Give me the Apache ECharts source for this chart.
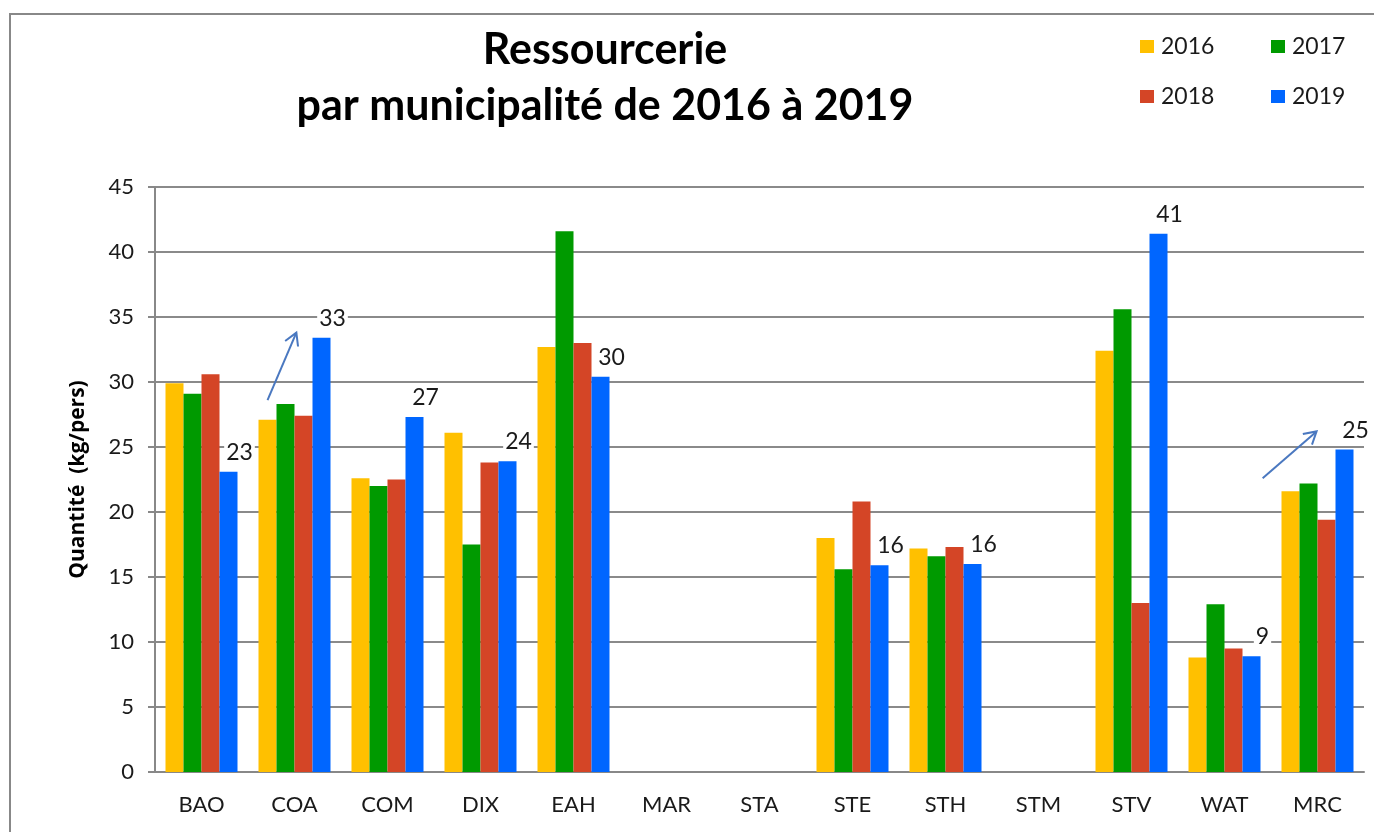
<!DOCTYPE html>
<html>
<head>
<meta charset="utf-8">
<script src="https://cdn.jsdelivr.net/npm/echarts@6/dist/echarts.min.js"></script>
<style>
  html, body { margin: 0; padding: 0; background: #fff; }
  #chart { width: 1374px; height: 832px; }
</style>
</head>
<body>
<div id="chart"></div>
<script>
// données (kg/pers)
const categories = ['BAO', 'COA', 'COM', 'DIX', 'EAH', 'MAR', 'STA', 'STE', 'STH', 'STM', 'STV', 'WAT', 'MRC']
const years = ['2016', '2017', '2018', '2019']
const y2016 = [29.9, 27.1, 22.6, 26.1, 32.7, null, null, 18.0, 17.2, null, 32.4, 8.8, 21.6]
const y2017 = [29.1, 28.3, 22.0, 17.5, 41.6, null, null, 15.6, 16.6, null, 35.6, 12.9, 22.2]
const y2018 = [30.6, 27.4, 22.5, 23.8, 33.0, null, null, 20.8, 17.3, null, 13.0, 9.5, 19.4]
const y2019 = [23.1, 33.4, 27.3, 23.9, 30.4, null, null, 15.9, 16.0, null, 41.4, 8.9, 24.8]
const yTicks = [0, 5, 10, 15, 20, 25, 30, 35, 40, 45]

const colors = ['#FFC000', '#009A00', '#D44526', '#0066FF']
const font = 'Lato'

const chart = echarts.init(document.getElementById('chart'))

function bar(name, data, color, withLabel) {
	return {
		name: name,
		type: 'bar',
		data: data,
		barWidth: 18,
		barGap: '0%',
		itemStyle: { color: color },
		label: {
			show: withLabel,
			position: 'top',
			distance: 8,
			offset: [11, 0],
			color: '#1a1a1a',
			fontFamily: font,
			fontSize: 23,
			backgroundColor: '#fff',
			padding: [0, 2],
			formatter: p => Math.round(p.value)
		},
		animation: false
	}
}

function legendItem(name, left, top) {
	return {
		data: [name],
		left: left,
		top: top,
		icon: 'rect',
		itemWidth: 14,
		itemHeight: 13,
		itemGap: 0,
		textStyle: { fontFamily: font, fontSize: 23, color: '#1a1a1a', padding: [0, 0, 0, 2] }
	}
}

chart.setOption({
	backgroundColor: '#fff',
	title: {
		text: 'Ressourcerie\npar municipalité de 2016 à 2019',
		left: 600,
		top: 17,
		textAlign: 'center',
		textStyle: {
			fontFamily: font,
			fontWeight: 'bold',
			fontSize: 43,
			lineHeight: 56,
			color: '#000'
		}
	},
	legend: [
		legendItem(years[0], 1135, 30),
		legendItem(years[1], 1266, 30),
		legendItem(years[2], 1135, 80),
		legendItem(years[3], 1266, 80)
	],
	grid: {
		left: 155,
		right: 10,
		top: 187,
		bottom: 60
	},
	xAxis: {
		type: 'category',
		data: categories,
		axisLine: { lineStyle: { color: '#888', width: 2 } },
		axisTick: { length: 8, lineStyle: { color: '#888', width: 2 } },
		axisLabel: { fontFamily: font, fontSize: 22, color: '#1a1a1a', margin: 22 }
	},
	yAxis: {
		type: 'value',
		min: yTicks[0],
		max: yTicks[yTicks.length - 1],
		interval: 5,
		name: 'Quantité  (kg/pers)',
		nameLocation: 'middle',
		nameRotate: 90,
		nameGap: 66,
		nameTextStyle: { fontFamily: 'Open Sans', fontWeight: 'bold', fontSize: 21, color: '#000' },
		axisLine: { show: true, lineStyle: { color: '#888', width: 2 } },
		axisTick: { show: true, length: 7, lineStyle: { color: '#888', width: 2 } },
		axisLabel: { fontFamily: font, fontSize: 22, color: '#1a1a1a', margin: 21 },
		splitLine: { lineStyle: { color: '#8a8a8a', width: 2 } }
	},
	series: [
		bar(years[0], y2016, colors[0], false),
		bar(years[1], y2017, colors[1], false),
		bar(years[2], y2018, colors[2], false),
		bar(years[3], y2019, colors[3], true)
	]
})

// flèches de tendance (COA et MRC), placées en coordonnées du graphique
const band = chart.getModel().getComponent('xAxis', 0).axis.getBandWidth()
function arrow(cat, fromDx, fromV, toDx, toV) {
	const a = chart.convertToPixel({ gridIndex: 0 }, [cat, fromV])
	const b = chart.convertToPixel({ gridIndex: 0 }, [cat, toV])
	const x0 = a[0] + fromDx * band, y0 = a[1]
	const x1 = b[0] + toDx * band, y1 = b[1]
	const ang = Math.atan2(y1 - y0, x1 - x0)
	const L = 14, s = Math.PI / 6
	const style = { stroke: '#4A78C0', lineWidth: 2 }
	return [
		{ type: 'line', shape: { x1: x0, y1: y0, x2: x1, y2: y1 }, style: style, z: 100 },
		{
			type: 'polyline',
			shape: { points: [
				[x1 - L * Math.cos(ang - s), y1 - L * Math.sin(ang - s)],
				[x1, y1],
				[x1 - L * Math.cos(ang + s), y1 - L * Math.sin(ang + s)]
			] },
			style: style,
			z: 100
		}
	]
}

chart.setOption({
	graphic: [
		{
			type: 'rect',
			shape: { x: 10, y: 14, width: 1400, height: 900 },
			style: { fill: 'none', stroke: '#888', lineWidth: 2 },
			silent: true
		}
	].concat(arrow('COA', -0.29, 28.6, 0.02, 33.8), arrow('MRC', -0.59, 22.6, -0.01, 26.2))
})
</script>
</body>
</html>
